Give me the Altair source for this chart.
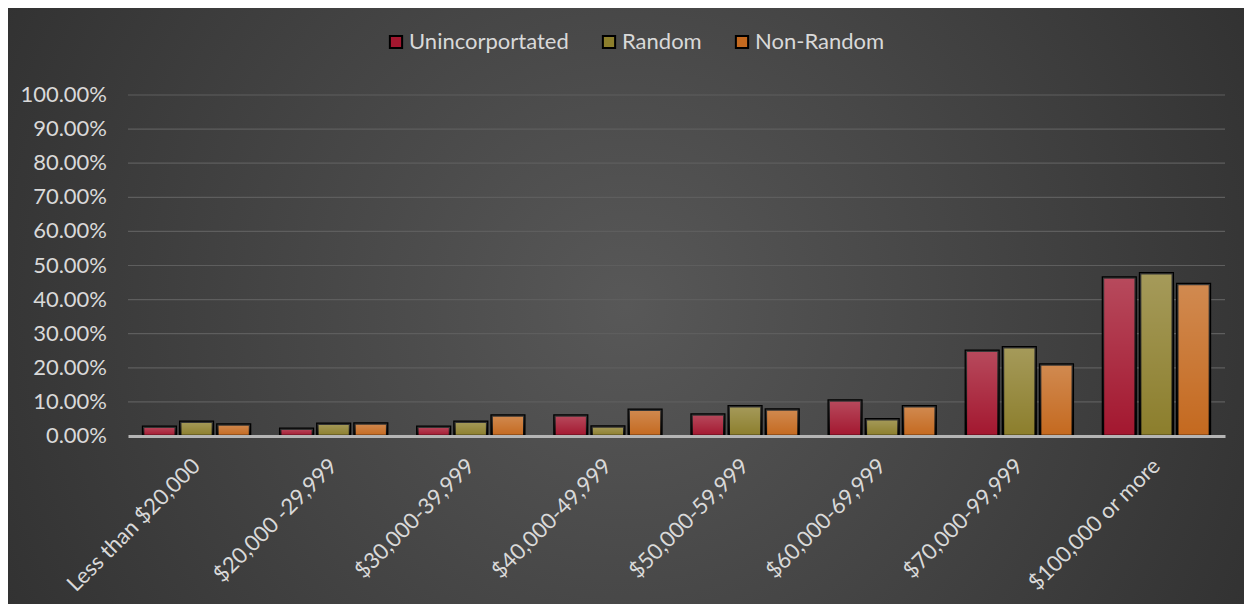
import altair as alt
import pandas as pd

categories = ["Less than $20,000", "$20,000 -29,999", "$30,000-39,999", "$40,000-49,999",
              "$50,000-59,999", "$60,000-69,999", "$70,000-99,999", "$100,000 or more"]
series = ["Unincorportated", "Random", "Non-Random"]
unincorporated = [0.027, 0.021, 0.027, 0.060, 0.063, 0.104, 0.250, 0.465]
random_vals = [0.042, 0.036, 0.042, 0.028, 0.087, 0.049, 0.260, 0.477]
non_random = [0.034, 0.037, 0.060, 0.077, 0.078, 0.087, 0.210, 0.446]
colors = ["#a3172f", "#8c7e2c", "#c4691f"]
grid_values = [0.1, 0.2, 0.3, 0.4, 0.5, 0.6, 0.7, 0.8, 0.9, 1.0]
tick_values = [0.0] + grid_values

rows = []
for s, vals in zip(series, [unincorporated, random_vals, non_random]):
    for c, v in zip(categories, vals):
        rows.append({"category": c, "series": s, "value": v})
df = pd.DataFrame(rows)

FONT = "Lato"
LABEL_COLOR = "#d9d9d9"
FS = 22

bg_gradient = {
    "gradient": "radial", "x1": 0.5, "y1": 0.5, "x2": 0.5, "y2": 0.5, "r1": 0, "r2": 0.75,
    "stops": [{"offset": 0, "color": "#585858"}, {"offset": 1, "color": "#252525"}],
}
shine = {
    "gradient": "linear", "x1": 0, "y1": 0, "x2": 0, "y2": 1,
    "stops": [{"offset": 0, "color": "rgba(255,255,255,0.22)"},
              {"offset": 1, "color": "rgba(255,255,255,0)"}],
}

y_scale = alt.Scale(domain=[0, 1])

background = alt.Chart(pd.DataFrame({"a": [0]})).mark_rect(fill=bg_gradient).encode(
    x=alt.value(-120), x2=alt.value(1116), y=alt.value(-87), y2=alt.value(509)
)

grid = alt.Chart(pd.DataFrame({"g": grid_values})).mark_rule(color="#5e5e5e", strokeWidth=1.2).encode(
    y=alt.Y("g:Q", scale=y_scale, axis=None)
)

y_labels = alt.Chart(pd.DataFrame({"t": tick_values})).mark_text(
    align="right", baseline="middle", font=FONT, fontSize=FS, color=LABEL_COLOR
).encode(
    y=alt.Y("t:Q", scale=y_scale, axis=None),
    x=alt.value(-21),
    text=alt.Text("t:Q", format=".2%"),
)

x_enc = alt.X("category:N", sort=categories,
              scale=alt.Scale(paddingInner=0.22, paddingOuter=0.11),
              axis=alt.Axis(title=None, labelAngle=-45, labelAlign="right", labelBaseline="middle",
                            ticks=False, domainColor="#b5b5b5", domainWidth=3, labelPadding=26,
                            labelColor=LABEL_COLOR, labelFontSize=FS, labelFont=FONT,
                            labelLimit=0, zindex=1, labelOverlap=False))
xo_enc = alt.XOffset("series:N", sort=series, scale=alt.Scale(paddingInner=0.12))
y_enc = alt.Y("value:Q", scale=y_scale, axis=None)

bars = alt.Chart(df).mark_bar(stroke="black", strokeWidth=2.5).encode(
    x=x_enc, xOffset=xo_enc, y=y_enc,
    color=alt.Color("series:N", sort=series,
                    scale=alt.Scale(domain=series, range=colors),
                    legend=alt.Legend(title=None, orient="none", direction="horizontal",
                                      legendX=257, legendY=-64, symbolType="square",
                                      symbolSize=150, symbolStrokeColor="black",
                                      symbolStrokeWidth=2, labelColor=LABEL_COLOR,
                                      labelFontSize=FS, labelFont=FONT, columnPadding=29,
                                      labelOffset=2)),
)

overlay = alt.Chart(df).mark_bar(fill=shine).encode(
    x=alt.X("category:N", sort=categories), xOffset=alt.XOffset("series:N", sort=series),
    y=alt.Y("value:Q", axis=None),
)

chart = alt.layer(background, grid, y_labels, bars, overlay).properties(
    width=1097, height=341,
    padding={"left": 120, "top": 87, "right": 19, "bottom": 168},
    autosize="none",
    background="#333333",
).configure_view(stroke=None)

chart.save("out.html", embed_options={"renderer": "svg", "actions": False})
